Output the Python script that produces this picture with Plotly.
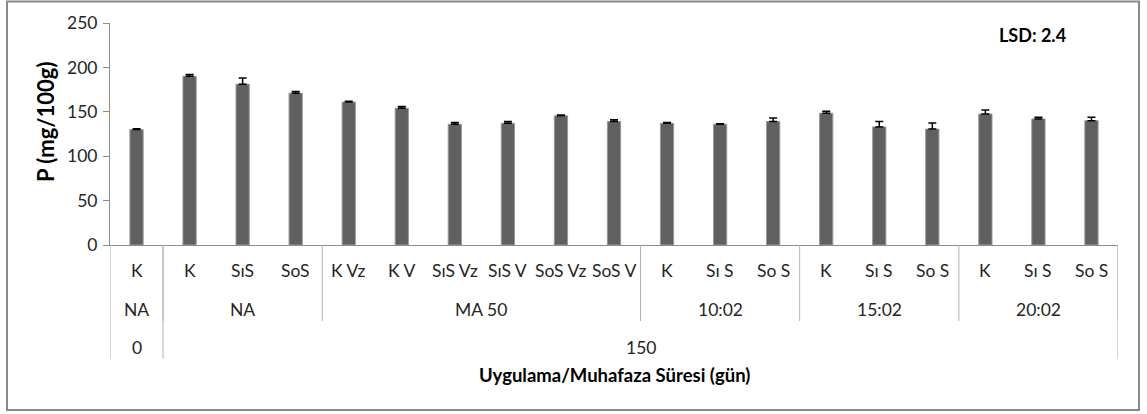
import plotly.graph_objects as go

# ---- data ----
level1 = ["K", "K", "SıS", "SoS", "K Vz", "K V", "SıS Vz", "SıS V", "SoS Vz", "SoS V",
          "K", "Sı S", "So S", "K", "Sı S", "So S", "K", "Sı S", "So S"]
values = [130, 190, 181, 171, 161, 154, 136, 137, 145.5, 139,
          137, 136, 139, 148.5, 133, 130.5, 147.5, 142, 140]
errors = [1, 2, 7, 2, 1, 2, 2, 2, 1, 2,
          1, 0.5, 4, 2, 6, 7, 4.5, 2, 4]
level2_names = ["NA", "NA", "MA 50", "10:02", "15:02", "20:02"]
level2_sizes = [1, 3, 6, 3, 3, 3]
level3_names = ["0", "150"]
level3_sizes = [1, 18]
y_ticks = [0, 50, 100, 150, 200, 250]

FONT = "Lato"
TXT = "#262626"
AX = "#8c8c8c"
SEP = "#b4b4b4"

# plot-area geometry in pixels (used only to convert to paper fractions)
L, R, T, B = 110, 1118, 23, 245
PW, PH = R - L, B - T


def px(xp):
    return (xp - L) / PW


def py(yp):
    return (B - yp) / PH


x = list(range(len(values)))

fig = go.Figure()
fig.add_trace(go.Bar(
    x=x, y=values, width=0.25,
    marker=dict(color="#606060", line=dict(color="#9a9a9a", width=1)),
    error_y=dict(type="data", array=errors, arrayminus=[0] * len(errors), symmetric=False,
                 color="black", thickness=1.5, width=4),
))

shapes = []
annotations = []
lab_font = dict(family=FONT, size=17.5, color=TXT)

# level-1 labels
for i, lab in enumerate(level1):
    annotations.append(dict(x=i, y=py(270), xref="x", yref="paper", text=lab,
                            showarrow=False, font=lab_font,
                            xanchor="center", yanchor="middle"))

# level-2 groups
start = -0.5
for name, size in zip(level2_names, level2_sizes):
    end = start + size
    annotations.append(dict(x=(start + end) / 2, y=py(309), xref="x", yref="paper", text=name,
                            showarrow=False, font=lab_font,
                            xanchor="center", yanchor="middle"))
    shapes.append(dict(type="line", xref="x", yref="paper", x0=end, x1=end, y0=0, y1=py(321),
                       line=dict(color=SEP, width=1)))
    start = end

# level-3 groups
start = -0.5
shapes.append(dict(type="line", xref="x", yref="paper", x0=start, x1=start, y0=0, y1=py(359),
                   line=dict(color=SEP, width=1)))
for name, size in zip(level3_names, level3_sizes):
    end = start + size
    annotations.append(dict(x=(start + end) / 2, y=py(347), xref="x", yref="paper", text=name,
                            showarrow=False, font=lab_font,
                            xanchor="center", yanchor="middle"))
    shapes.append(dict(type="line", xref="x", yref="paper", x0=end, x1=end, y0=0, y1=py(359),
                       line=dict(color=SEP, width=1)))
    start = end

# x title
annotations.append(dict(x=0.5, y=py(375), xref="paper", yref="paper",
                        text="<b>Uygulama/Muhafaza Süresi (gün)</b>", showarrow=False,
                        font=dict(family=FONT, size=18.5, color="black"),
                        xanchor="center", yanchor="middle"))
# y title
annotations.append(dict(x=px(45), y=py(122), xref="paper", yref="paper",
                        text="<b>P (mg/100g)</b>", showarrow=False, textangle=-90,
                        font=dict(family=FONT, size=22, color="black"),
                        xanchor="center", yanchor="middle"))
# LSD note
annotations.append(dict(x=px(1032), y=py(35), xref="paper", yref="paper",
                        text="<b>LSD: 2.4</b>", showarrow=False,
                        font=dict(family=FONT, size=18, color="black"),
                        xanchor="center", yanchor="middle"))

# outer chart border
shapes.append(dict(type="rect", xref="paper", yref="paper",
                   x0=px(7), x1=px(1139), y0=py(410), y1=py(1.5),
                   line=dict(color="#8a8a8a", width=2)))

fig.update_layout(
    width=1147, height=414,
    margin=dict(l=L, r=1147 - R, t=T, b=414 - B, autoexpand=False),
    paper_bgcolor="white", plot_bgcolor="white",
    showlegend=False,
    font=dict(family=FONT, size=16, color=TXT),
    shapes=shapes, annotations=annotations,
    xaxis=dict(range=[-0.5, 18.5], showticklabels=False, ticks="", showgrid=False,
               zeroline=False, showline=True, linecolor=AX, linewidth=1, fixedrange=True,
               automargin=False),
    yaxis=dict(range=[0, 250], tickvals=y_ticks, ticks="outside", ticklen=6, tickcolor=AX,
               showline=True, linecolor=AX, linewidth=1, showgrid=False, zeroline=False,
               tickfont=dict(family=FONT, size=17.5, color=TXT), ticklabelstandoff=2,
               automargin=False),
)

fig.write_html("out.html", config={"displayModeBar": False},
               post_script="document.body.style.margin='0';")
